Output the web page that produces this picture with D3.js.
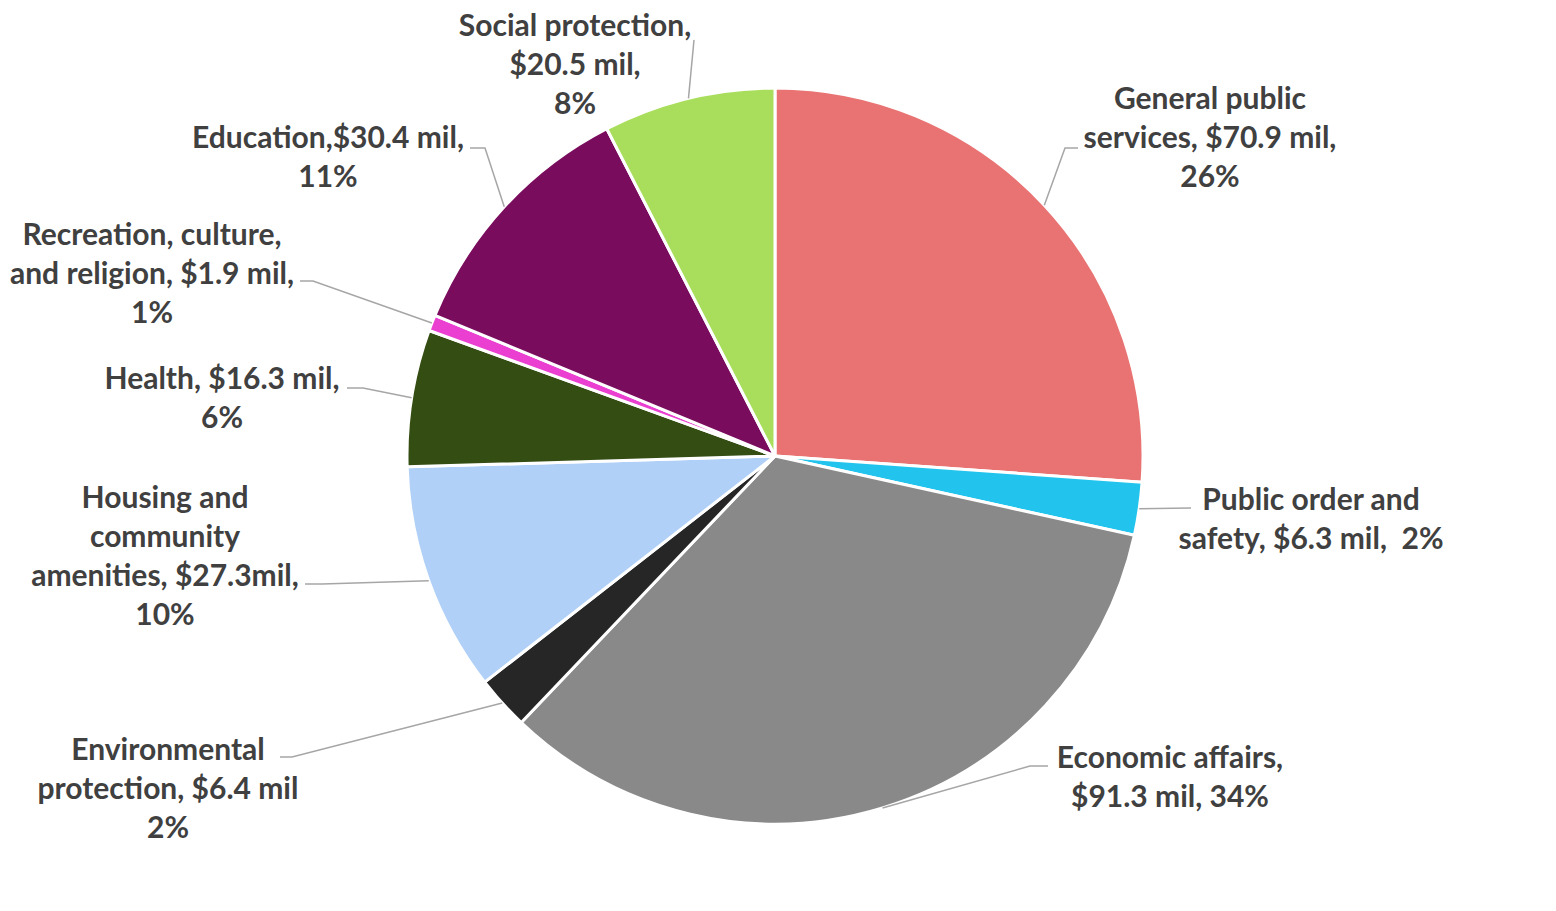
<!DOCTYPE html>
<html><head><meta charset="utf-8">
<script src="https://cdn.jsdelivr.net/npm/d3@7"></script>
<style>
html,body{margin:0;padding:0;background:#fff;}
svg{display:block;}
</style></head>
<body>
<svg id="chart" width="1556" height="911"></svg>
<script>
const categories = ["General public services","Public order and safety","Economic affairs","Environmental protection","Housing and community amenities","Health","Recreation, culture, and religion","Education","Social protection"];
const values = [70.9, 6.3, 91.3, 6.4, 27.3, 16.3, 1.9, 30.4, 20.5];
const colors = ["#E87372","#22C3EC","#898989","#262626","#B0D0F8","#344D12","#EA3FD0","#7A0C5E","#A9DE5C"];
const labelLines = [
  ["General public","services, $70.9 mil,","26%"],
  ["Public order and","safety, $6.3 mil,  2%"],
  ["Economic affairs,","$91.3 mil, 34%"],
  ["Environmental","protection, $6.4 mil","2%"],
  ["Housing and","community","amenities, $27.3mil,","10%"],
  ["Health, $16.3 mil,","6%"],
  ["Recreation, culture,","and religion, $1.9 mil,","1%"],
  ["Education,$30.4 mil,","11%"],
  ["Social protection,","$20.5 mil,","8%"]
];

// layout (label centre x, first line centre y, leader elbow and end)
const labelLayout = [
  {x:1210, y:97,  elbow:[1065,148], end:[1078,148]},
  {x:1311, y:498, elbow:[1191,508], end:[1191,508]},
  {x:1170, y:756, elbow:[1030,766], end:[1048,766]},
  {x:168,  y:748, elbow:[292,757],  end:[280,757]},
  {x:165,  y:496, elbow:[322,584],  end:[305,584]},
  {x:222,  y:377, elbow:[363,388],  end:[347,388]},
  {x:152,  y:233, elbow:[313,281],  end:[300,281]},
  {x:328,  y:136, elbow:[485,148],  end:[470,148]},
  {x:575,  y:24,  elbow:[694,40],   end:[694,40]}
];

const cx = 775, cy = 456, R = 368, lineH = 39;
const svg = d3.select("#chart");
const pie = d3.pie().sort(null).value(d => d)(values);
const arc = d3.arc().innerRadius(0).outerRadius(R);
const g = svg.append("g").attr("transform", `translate(${cx},${cy})`);

g.selectAll("path.slice").data(pie).enter().append("path")
  .attr("class","slice")
  .attr("d", arc)
  .attr("fill", (d,i) => colors[i])
  .attr("stroke", "#fff")
  .attr("stroke-width", 3)
  .attr("stroke-linejoin","round");

// leader lines
pie.forEach((d,i) => {
  const a = (d.startAngle + d.endAngle)/2;
  const px = cx + R*Math.sin(a), py = cy - R*Math.cos(a);
  const L = labelLayout[i];
  svg.append("polyline")
    .attr("points", [[px,py], L.elbow, L.end].map(p => p.join(",")).join(" "))
    .attr("fill","none").attr("stroke","#A6A6A6").attr("stroke-width",1.5);
});

// labels
labelLines.forEach((lines,i) => {
  const L = labelLayout[i];
  const t = svg.append("text")
    .attr("text-anchor","middle")
    .attr("font-family","Lato, 'Open Sans', sans-serif")
    .attr("font-weight","700")
    .attr("font-size","30px")
    .attr("fill","#404040");
  lines.forEach((s,k) => {
    t.append("tspan").attr("x", L.x).attr("y", L.y + k*lineH)
      .attr("dominant-baseline","central")
      .style("white-space","pre")
      .text(s);
  });
});
</script>
</body></html>
